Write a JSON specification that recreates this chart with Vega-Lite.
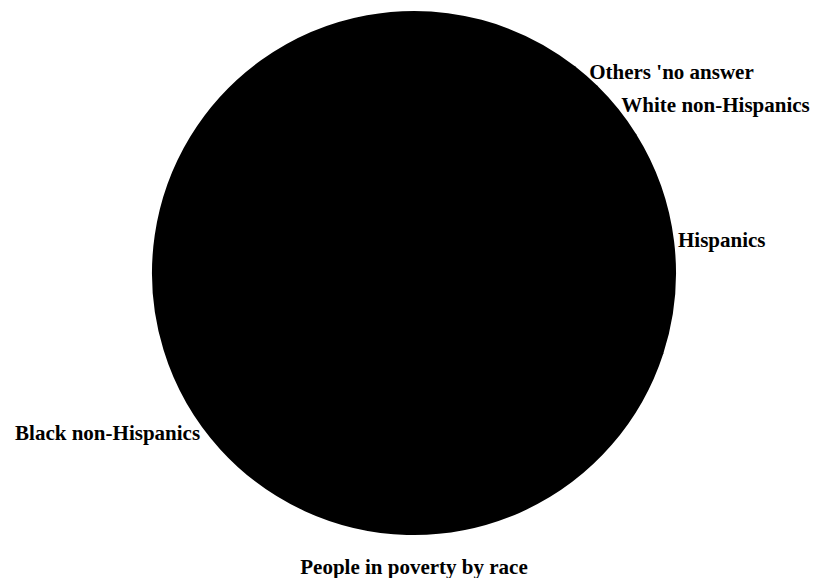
{
  "$schema": "https://vega.github.io/schema/vega-lite/v6.json",
  "width": 828,
  "height": 546,
  "padding": 0,
  "background": "white",
  "title": {
    "text": "People in poverty by race",
    "orient": "bottom",
    "anchor": "middle",
    "offset": 11,
    "font": "Liberation Serif",
    "fontSize": 21,
    "fontWeight": "bold",
    "color": "black"
  },
  "data": {
    "values": [
      {"group": "Hispanics", "share": 13.87, "side": "right"},
      {"group": "Black non-Hispanics", "share": 80.57, "side": "left"},
      {"group": "Others 'no answer", "share": 1.78, "side": "right"},
      {"group": "White non-Hispanics", "share": 3.78, "side": "right"}
    ]
  },
  "transform": [
    {"window": [{"op": "row_number", "as": "idx"}]}
  ],
  "encoding": {
    "theta": {"field": "share", "type": "quantitative", "stack": true, "scale": {"range": [0.66323, 6.94641]}}
  },
  "layer": [
    {
      "mark": {"type": "arc", "outerRadius": 261, "fill": "black", "stroke": "black", "strokeWidth": 2, "strokeJoin": "round"},
      "encoding": {"order": {"field": "share", "type": "quantitative", "sort": "ascending"}}
    },
    {
      "mark": {"type": "text", "radius": 266, "align": "left", "baseline": "middle", "font": "Liberation Serif", "fontSize": 21, "fontWeight": "bold", "fill": "black"},
      "encoding": {
        "order": {"field": "share", "type": "quantitative", "sort": "ascending"},
        "text": {"condition": {"test": "datum.side == 'right'", "field": "group"}, "value": ""}
      }
    },
    {
      "mark": {"type": "text", "radius": 268, "align": "right", "baseline": "middle", "font": "Liberation Serif", "fontSize": 21, "fontWeight": "bold", "fill": "black"},
      "encoding": {
        "order": {"field": "idx", "type": "quantitative"},
        "text": {"condition": {"test": "datum.side == 'left'", "field": "group"}, "value": ""}
      }
    }
  ],
  "config": {"view": {"stroke": null}}
}
